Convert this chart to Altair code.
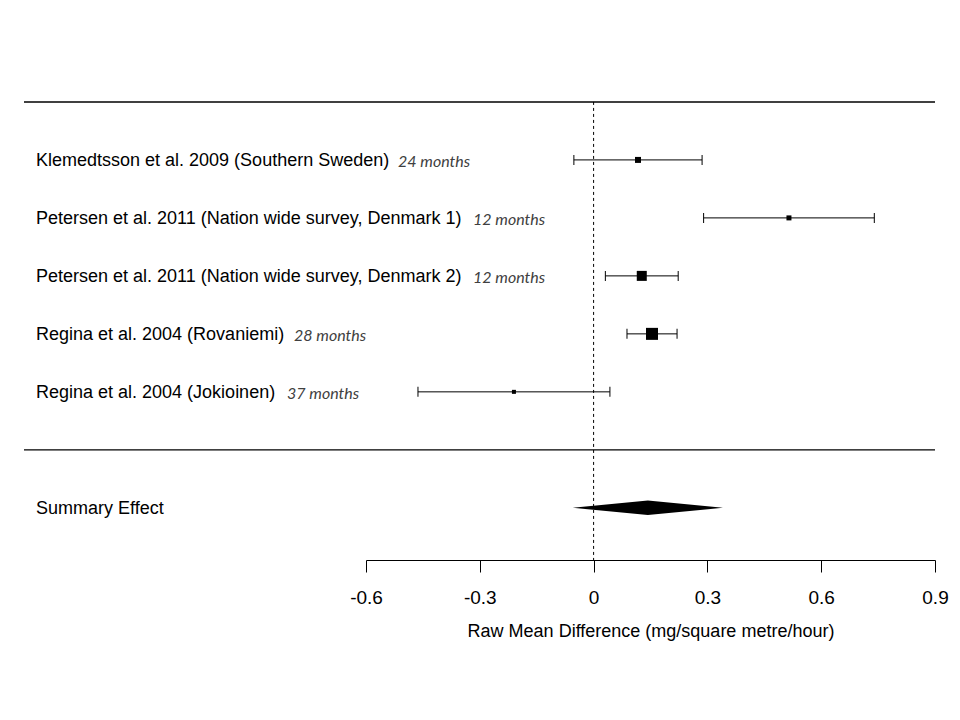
import altair as alt
import pandas as pd

# ---- data ----
studies = [
    "Klemedtsson et al. 2009 (Southern Sweden)",
    "Petersen et al. 2011 (Nation wide survey, Denmark 1)",
    "Petersen et al. 2011 (Nation wide survey, Denmark 2)",
    "Regina et al. 2004 (Rovaniemi)",
    "Regina et al. 2004 (Jokioinen)",
]
durations = ["24 months", "12 months", "12 months", "28 months", "37 months"]
estimates = [0.117, 0.515, 0.127, 0.154, -0.210]
ci_low = [-0.052, 0.290, 0.031, 0.088, -0.463]
ci_high = [0.286, 0.740, 0.223, 0.220, 0.043]
weights = [11.2, 7.8, 31.2, 44.9, 5.0]

summary_label = "Summary Effect"
summary_est = 0.143
summary_low = -0.055
summary_high = 0.341

x_ticks = [-0.6, -0.3, 0, 0.3, 0.6, 0.9]
x_title = "Raw Mean Difference (mg/square metre/hour)"

# ---- layout constants (pixels in plot area) ----
W, H = 944, 552
label_x = 28
months_x = [390, 465, 465, 286, 279]
diamond_half = 0.125
summary_row = 7
FONT = "Liberation Sans"

rows = list(range(1, len(studies) + 1))
df = pd.DataFrame({
    "r": rows, "label": studies, "months": durations,
    "est": estimates, "lo": ci_low, "hi": ci_high, "w": weights,
})
lines_df = pd.DataFrame({"r": [0, 6]})
zero_df = pd.DataFrame({"x": [0.0], "r": [0]})
diamond_df = pd.DataFrame({
    "x": [summary_low, summary_est, summary_high],
    "y": [summary_row, summary_row - diamond_half, summary_row],
    "y2": [summary_row, summary_row + diamond_half, summary_row],
})
summary_df = pd.DataFrame({"r": [summary_row], "label": [summary_label]})

xscale = alt.Scale(domain=[-0.6, 0.9], range=[358, 927], nice=False, zero=False)
xaxis = alt.Axis(
    values=x_ticks, title=x_title, grid=False,
    labelExpr="replace(format(datum.value, '~g'), '\u2212', '-')",
    domainColor="black", tickColor="black", tickSize=12, tickWidth=1, domainWidth=1,
    labelFont=FONT, labelFontSize=19, labelColor="black",
    labelPadding=16, labelFlush=False,
    titleFont=FONT, titleFontSize=18, titleColor="black",
    titleFontWeight="normal", titlePadding=15,
)
yscale = alt.Scale(domain=[-1.62, 7.9], reverse=True, nice=False, zero=False)


def X(field):
    return alt.X(field, type="quantitative", scale=xscale, axis=xaxis)


def Y(field):
    return alt.Y(field, type="quantitative", scale=yscale, axis=None)


hlines = alt.Chart(lines_df).mark_rule(color="black", strokeWidth=1.4).encode(
    y=Y("r"), x=alt.value(16), x2=alt.value(927)
)
zero_line = alt.Chart(zero_df).mark_rule(color="black", strokeDash=[3, 3], strokeWidth=1).encode(
    x=X("x"), y=Y("r"), y2=alt.value(H)
)
ci = alt.Chart(df).mark_rule(color="black", strokeWidth=1).encode(
    x=X("lo"), x2="hi", y=Y("r")
)
cap_lo = alt.Chart(df).mark_tick(color="black", orient="vertical", size=10, thickness=1, opacity=1).encode(
    x=X("lo"), y=Y("r")
)
cap_hi = alt.Chart(df).mark_tick(color="black", orient="vertical", size=10, thickness=1, opacity=1).encode(
    x=X("hi"), y=Y("r")
)
squares = alt.Chart(df).mark_square(color="black", filled=True, opacity=1).encode(
    x=X("est"), y=Y("r"),
    size=alt.Size("w:Q", scale=alt.Scale(domain=[0, 100], range=[0, 321]), legend=None),
)
labels = alt.Chart(df).mark_text(
    align="left", baseline="middle", font=FONT, fontSize=18, color="black", dy=1
).encode(x=alt.value(label_x), y=Y("r"), text="label")

month_layers = []
for i in range(len(studies)):
    month_layers.append(
        alt.Chart(df.iloc[[i]]).mark_text(
            align="left", baseline="middle", font="Lato", fontSize=16,
            fontStyle="italic", color="#404040", dy=2,
        ).encode(x=alt.value(months_x[i]), y=Y("r"), text="months")
    )

diamond = alt.Chart(diamond_df).mark_area(color="black", opacity=1).encode(
    x=X("x"), y=Y("y"), y2="y2"
)
summary_text = alt.Chart(summary_df).mark_text(
    align="left", baseline="middle", font=FONT, fontSize=18, color="black", dy=1
).encode(x=alt.value(label_x), y=Y("r"), text="label")

chart = alt.layer(
    hlines, zero_line, ci, cap_lo, cap_hi, squares, labels, *month_layers, diamond, summary_text
).properties(
    width=W, height=H, autosize="none", background="white",
    padding={"left": 0, "top": 0, "right": 0, "bottom": 150},
).configure_view(stroke=None)

chart.save("out.html", embed_options={"renderer": "svg", "actions": False})
